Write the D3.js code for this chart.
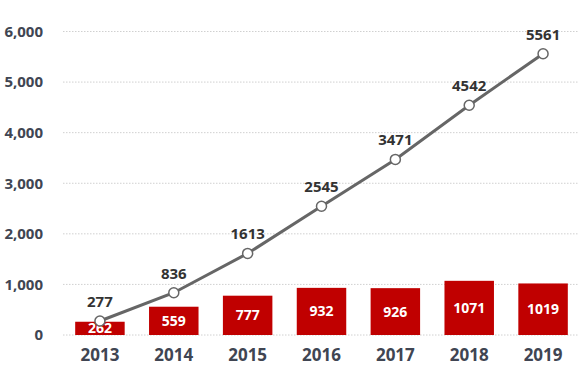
<!DOCTYPE html>
<html>
<head>
<meta charset="utf-8">
<script src="https://cdn.jsdelivr.net/npm/d3@7"></script>
<style>
  body { margin: 0; background: #fff; }
  svg text { font-family: "Open Sans", "Liberation Sans", sans-serif; font-weight: bold; }
</style>
</head>
<body>
<svg id="chart" width="580" height="374"></svg>
<script>
// Data
const years = ["2013", "2014", "2015", "2016", "2017", "2018", "2019"];
const barValues = [262, 559, 777, 932, 926, 1071, 1019];
const lineValues = [277, 836, 1613, 2545, 3471, 4542, 5561];
const yTicks = [0, 1000, 2000, 3000, 4000, 5000, 6000];

const width = 580, height = 374;
const margin = { top: 31.5, right: 0, bottom: 39, left: 63 };
const innerW = width - margin.left - margin.right;
const innerH = height - margin.top - margin.bottom;

const svg = d3.select("#chart");
const g = svg.append("g")
  .attr("transform", `translate(${margin.left},${margin.top})`);

const x = d3.scaleBand().domain(years).range([0, innerW]).paddingInner(0.33).paddingOuter(0.165);
const y = d3.scaleLinear().domain([0, 6000]).range([innerH, 0]);

// gridlines
g.selectAll(".grid")
  .data(yTicks)
  .join("line")
    .attr("x1", 0).attr("x2", innerW - 2)
    .attr("y1", d => y(d)).attr("y2", d => y(d))
    .attr("stroke", "#d0d0d0")
    .attr("stroke-dasharray", "1.5,1.5");

// y axis
const yAxis = d3.axisLeft(y).tickValues(yTicks).tickFormat(d3.format(",")).tickSize(0).tickPadding(20);
g.append("g").call(yAxis)
  .call(a => a.select(".domain").remove())
  .call(a => a.selectAll("text")
    .attr("fill", "#404552")
    .attr("font-size", 15)
    .style("font-family", "'Open Sans', sans-serif"));

// x axis
const xAxis = d3.axisBottom(x).tickSize(0).tickPadding(14);
g.append("g").attr("transform", `translate(0,${innerH})`).call(xAxis)
  .call(a => a.select(".domain").remove())
  .call(a => a.selectAll("text")
    .attr("fill", "#404552")
    .attr("font-size", 17)
    .style("font-family", "'Open Sans', sans-serif"));

// bars
g.selectAll(".bar")
  .data(years.map((yr, i) => ({ yr, v: barValues[i] })))
  .join("rect")
    .attr("x", d => x(d.yr))
    .attr("y", d => y(d.v))
    .attr("width", x.bandwidth())
    .attr("height", d => innerH - y(d.v))
    .attr("fill", "#c00000");

g.selectAll(".bar-label")
  .data(years.map((yr, i) => ({ yr, v: barValues[i] })))
  .join("text")
    .attr("x", d => x(d.yr) + x.bandwidth() / 2)
    .attr("y", d => (y(d.v) + innerH) / 2)
    .attr("dy", "0.36em")
    .attr("text-anchor", "middle")
    .attr("fill", "#fff")
    .attr("font-size", 14)
    .text(d => d.v);

// line
const pts = years.map((yr, i) => ({ yr, v: lineValues[i] }));
const line = d3.line().x(d => x(d.yr) + x.bandwidth() / 2).y(d => y(d.v));
g.append("path")
  .datum(pts)
  .attr("d", line)
  .attr("fill", "none")
  .attr("stroke", "#666666")
  .attr("stroke-width", 3);

g.selectAll(".pt")
  .data(pts)
  .join("circle")
    .attr("cx", d => x(d.yr) + x.bandwidth() / 2)
    .attr("cy", d => y(d.v))
    .attr("r", 5)
    .attr("fill", "#fff")
    .attr("stroke", "#666666")
    .attr("stroke-width", 1.5);

g.selectAll(".pt-label")
  .data(pts)
  .join("text")
    .attr("x", d => x(d.yr) + x.bandwidth() / 2)
    .attr("y", d => y(d.v) - 14)
    .attr("text-anchor", "middle")
    .attr("fill", "#333333")
    .attr("font-size", 15)
    .text(d => d.v);
</script>
</body>
</html>
